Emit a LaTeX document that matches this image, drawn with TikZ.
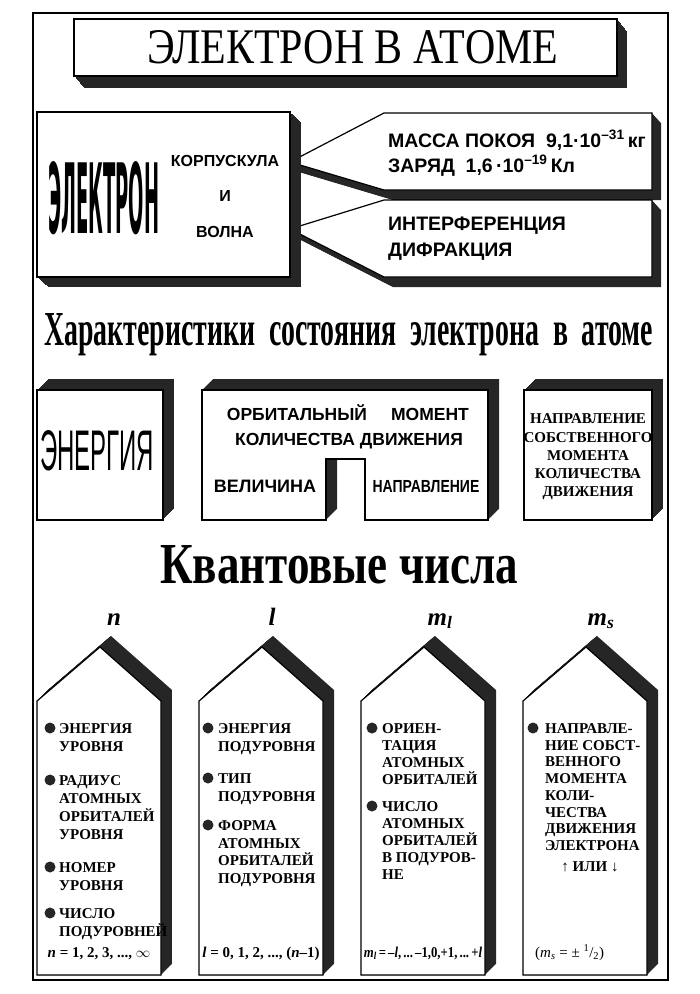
\documentclass[tikz,border=0pt]{standalone}
\usepackage{fontspec}
\usepackage{graphicx}
\setmainfont{Liberation Serif}
\setsansfont{Liberation Sans}
\newfontfamily\heavysans{DejaVu Sans Condensed}

% squeezed word: width, height, text
\newcommand{\squeeze}[3]{\resizebox{#1pt}{#2pt}{#3}}
% black slab behind a face: dx, dy, path
\newcommand{\extrude}[3]{\foreach \k in {0,0.04,...,1} {\fill[slab, shift={({#1*\k},{#2*\k})}] #3;}}

\begin{document}
\begin{tikzpicture}[x=1pt, y=-1pt,
    slab/.style={fill=black!85},
    face/.style={draw, line width=1.2pt, fill=white},
    bigword/.style={inner sep=0pt, anchor=base west},
    sanstxt/.style={font=\sffamily\bfseries\fontsize{#1}{#1}\selectfont, inner sep=0pt},
    sanstxt/.default=19.5,
    housetxt/.style={font=\bfseries\fontsize{15}{#1}\selectfont, align=left, inner sep=0pt, anchor=base west},
    housetxt/.default=18,
    dot/.style={circle, fill=black!85, minimum size=11pt, inner sep=0pt},
    qnum/.style={font=\bfseries\itshape\fontsize{25}{28}\selectfont, inner sep=0pt, anchor=base},
    formula/.style={font=\bfseries\fontsize{15}{18}\selectfont, inner sep=0pt, anchor=base}]

    \useasboundingbox (0,0) rectangle (700,994);
    \draw[line width=1.6pt] (33,13) rectangle (668,980);

    % Title
    \extrude{10}{12}{(74,19) rectangle (617,76)}
    \draw[face, line width=1.4pt] (74,19) rectangle (617,76);
    \node[bigword] (title) at (147,63) {\squeeze{411}{33}{ЭЛЕКТРОН В АТОМЕ}};

    % Particle and wave
    \extrude{9}{10}{(290,162) -- (384,113) -- (652,113) -- (652,190) -- (384,190) -- cycle}
    \draw[face] (290,162) -- (384,113) -- (652,113) -- (652,190) -- (384,190) -- cycle;
    \extrude{9}{10}{(290,229) -- (384,200) -- (652,200) -- (652,277) -- (384,277) -- cycle}
    \draw[face] (290,229) -- (384,200) -- (652,200) -- (652,277) -- (384,277) -- cycle;
    \extrude{11}{10}{(37,112) rectangle (290,277)}
    \draw[face] (37,112) rectangle (290,277);

    \node[bigword] (electron) at (48,233) {\squeeze{111}{72}{\heavysans\bfseries ЭЛЕКТРОН}};
    \node[sanstxt=16] (corp) at (225,161) {КОРПУСКУЛА};
    \node[sanstxt=16] (and) at (225,196) {И};
    \node[sanstxt=16] (wave) at (225,232) {ВОЛНА};

    \node[sanstxt, anchor=base west] (mass) at (388,147) {МАССА ПОКОЯ\ \ 9,1·10\textsuperscript{–31}\,кг};
    \node[sanstxt, anchor=base west] (charge) at (388,172) {ЗАРЯД\ \ 1,6\,·10\textsuperscript{–19}\,Кл};
    \node[sanstxt, anchor=base west] (interf) at (388,230) {ИНТЕРФЕРЕНЦИЯ};
    \node[sanstxt, anchor=base west] (diffr) at (388,256) {ДИФРАКЦИЯ};

    % State characteristics
    \node[bigword] (charact) at (44,345) {\squeeze{609}{32}{\bfseries Характеристики\ \ состояния\ \ электрона\ \ в\ \ атоме}};

    \extrude{11}{-11}{(37,390) rectangle (163,520)}
    \draw[face] (37,390) rectangle (163,520);
    \node[bigword] (energy) at (40,470) {\squeeze{114}{40}{\sffamily ЭНЕРГИЯ}};

    \extrude{11}{-11}{(202,390) -- (488,390) -- (488,520) -- (365,520) -- (365,459) -- (326,459) -- (326,520) -- (202,520) -- cycle}
    \draw[face] (202,390) -- (488,390) -- (488,520) -- (365,520) -- (365,459) -- (326,459) -- (326,520) -- (202,520) -- cycle;
    \node[sanstxt=17.5, anchor=base] (orb) at (297,420) {ОРБИТАЛЬНЫЙ};
    \node[sanstxt=17.5, anchor=base] (mom) at (430,420) {МОМЕНТ};
    \node[sanstxt=17.5, anchor=base] (amount) at (349,445) {КОЛИЧЕСТВА ДВИЖЕНИЯ};
    \node[sanstxt=18, anchor=base] (size) at (265,492) {ВЕЛИЧИНА};
    \node[sanstxt=17.5, anchor=base] (dir) at (426,492) {\scalebox{0.8}[1]{НАПРАВЛЕНИЕ}};

    \extrude{11}{-11}{(524,390) rectangle (652,520)}
    \draw[face] (524,390) rectangle (652,520);
    \node[font=\bfseries\fontsize{15}{18.3}\selectfont, align=center, inner sep=0pt] (spin) at (588,457)
        {НАПРАВЛЕНИЕ\\СОБСТВЕННОГО\\МОМЕНТА\\КОЛИЧЕСТВА\\ДВИЖЕНИЯ};

    % Quantum numbers
    \node[bigword] (qnums) at (160,583) {\squeeze{358}{38}{\bfseries Квантовые числа}};
    \node[qnum] (qn) at (114,625) {n};
    \node[qnum] (ql) at (272,625) {l};
    \node[qnum] (qml) at (440,625) {m\textsubscript{l}};
    \node[qnum] (qms) at (601,625) {m\textsubscript{s}};

    \foreach \hx in {37,199,361,523} {
        \extrude{11}{-11}{(\hx,701) -- ({\hx+63},647) -- ({\hx+124},701) -- ({\hx+124},975) -- (\hx,975) -- cycle}
        \draw[face] (\hx,701) -- ({\hx+63},647) -- ({\hx+124},701) -- ({\hx+124},975) -- (\hx,975) -- cycle;
    }

    % n  (a node's base is the baseline of its last line)
    \node[dot] (dn1) at (50,728) {};
    \node[housetxt] (n1) at (59,751.5) {ЭНЕРГИЯ\\УРОВНЯ};
    \node[dot] (dn2) at (50,780) {};
    \node[housetxt] (n2) at (59,839.5) {РАДИУС\\АТОМНЫХ\\ОРБИТАЛЕЙ\\УРОВНЯ};
    \node[dot] (dn3) at (50,867) {};
    \node[housetxt] (n3) at (59,890.5) {НОМЕР\\УРОВНЯ};
    \node[dot] (dn4) at (50,913) {};
    \node[housetxt] (n4) at (59,936.5) {ЧИСЛО\\ПОДУРОВНЕЙ};
    \node[formula] (nrange) at (99,957) {\textit{n} = 1, 2, 3, ..., $\infty$};

    % l
    \node[dot] (dl1) at (208,728) {};
    \node[housetxt=17.5] (l1) at (218,751) {ЭНЕРГИЯ\\ПОДУРОВНЯ};
    \node[dot] (dl2) at (208,778) {};
    \node[housetxt=17.5] (l2) at (218,801) {ТИП\\ПОДУРОВНЯ};
    \node[dot] (dl3) at (208,825) {};
    \node[housetxt=17.5] (l3) at (218,883) {ФОРМА\\АТОМНЫХ\\ОРБИТАЛЕЙ\\ПОДУРОВНЯ};
    \node[formula] (lrange) at (261,957) {\textit{l} = 0, 1, 2, ..., (\textit{n}–1)};

    % m_l
    \node[dot] (dm1) at (372,728) {};
    \node[housetxt=17] (m1) at (382,784.5) {ОРИЕН-\\ТАЦИЯ\\АТОМНЫХ\\ОРБИТАЛЕЙ};
    \node[dot] (dm2) at (372,806) {};
    \node[housetxt=17] (m2) at (382,879.5) {ЧИСЛО\\АТОМНЫХ\\ОРБИТАЛЕЙ\\В ПОДУРОВ-\\НЕ};
    \node[formula] (mlrange) at (423,957) {\scalebox{0.85}[1]{\textit{m\textsubscript{l}}\,=\,–\textit{l},\,...\,–1,0,+1,\,...\,+\textit{l}}};

    % m_s
    \node[dot] (ds1) at (533,728) {};
    \node[housetxt=16.7] (s1) at (545,850.4) {НАПРАВЛЕ-\\НИЕ СОБСТ-\\ВЕННОГО\\МОМЕНТА\\КОЛИ-\\ЧЕСТВА\\ДВИЖЕНИЯ\\ЭЛЕКТРОНА};
    \node[formula] (updown) at (590,871) {↑ ИЛИ ↓};
    \node[formula, font=\fontsize{15}{18}\selectfont, anchor=base west] (msrange) at (535,957) {(\textit{m\textsubscript{s}} = ±\ \textsuperscript{1}/\textsubscript{2})};
\end{tikzpicture}
\end{document}
